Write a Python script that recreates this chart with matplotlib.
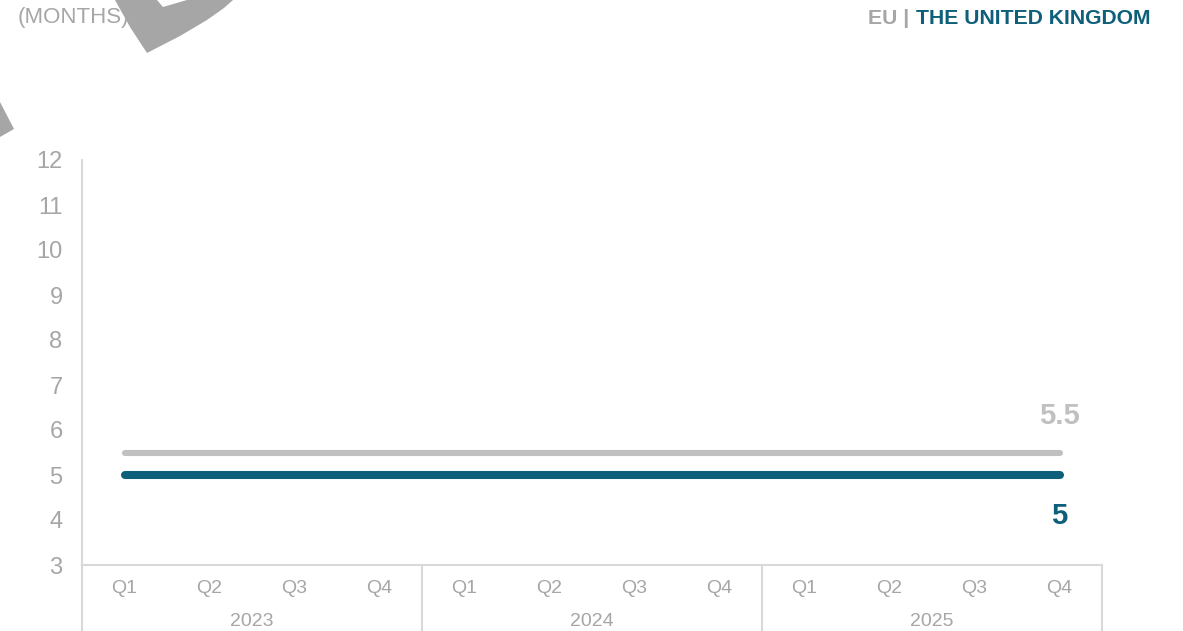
import matplotlib
matplotlib.use("Agg")
import matplotlib.pyplot as plt
from matplotlib.patches import Polygon
from matplotlib.transforms import blended_transform_factory, Affine2D
import numpy as np

plt.rcParams['font.family'] = ['Liberation Sans', 'DejaVu Sans']

# ---- data ----
years = ["2023", "2024", "2025"]
quarters = ["Q1", "Q2", "Q3", "Q4"]
eu_values = [5.5] * 12
uk_values = [5.0] * 12
y_ticks = [3, 4, 5, 6, 7, 8, 9, 10, 11, 12]

TEAL = "#0E5F7A"
GREY_LINE = "#C0C0C0"
TICK_GREY = "#A6A6A6"
AXIS_GREY = "#D9D9D9"

W, H = 1183, 631
fig = plt.figure(figsize=(W / 100, H / 100), dpi=100)
ax = fig.add_axes([82 / W, 1 - 565 / H, (1102 - 82) / W, (565 - 160) / H])

x = np.arange(len(eu_values))
ax.plot(x, eu_values, color=GREY_LINE, lw=4.4, solid_capstyle="round", zorder=3)
ax.plot(x, uk_values, color=TEAL, lw=5.8, solid_capstyle="round", zorder=4)

ax.set_xlim(-0.5, len(x) - 0.5)
ax.set_ylim(3, 12)
ax.set_yticks(y_ticks)
ax.set_yticklabels([str(v) for v in y_ticks], fontsize=17, color=TICK_GREY)
ax.tick_params(axis="y", length=0, pad=14)
ax.set_xticks(x)
ax.set_xticklabels(quarters * len(years), fontsize=14, color=TICK_GREY)
ax.tick_params(axis="x", length=0, pad=11)

for s in ["top", "right"]:
    ax.spines[s].set_visible(False)
for s in ["left", "bottom"]:
    ax.spines[s].set_color(AXIS_GREY)
    ax.spines[s].set_linewidth(1.5)

# category separators extending below the axis
trans = blended_transform_factory(ax.transData, ax.transAxes)
ext = -66 / 405
for i in range(len(years) + 1):
    xs = -0.5 + 4 * i
    ax.plot([xs, xs], [0, ext], color=AXIS_GREY, lw=1.5, transform=trans, clip_on=False)

for i, yr in enumerate(years):
    ax.text(1.5 + 4 * i, -56 / 405, yr, transform=trans, ha="center", va="center",
            fontsize=14, color=TICK_GREY)

# end value labels
ax.text(x[-1], eu_values[-1] + 0.8, f"{eu_values[-1]:g}", ha="center", va="center",
        fontsize=21, fontweight="bold", color=GREY_LINE)
ax.text(x[-1], uk_values[-1] - 0.9, f"{uk_values[-1]:g}", ha="center", va="center",
        fontsize=21, fontweight="bold", color=TEAL)

# titles
fig.text(18 / W, 1 - 18 / H, "(MONTHS)", ha="left", va="center", fontsize=16, color=TICK_GREY)
t1 = fig.text(1150 / W, 1 - 18 / H, "THE UNITED KINGDOM", ha="right", va="center",
              fontsize=15.2, fontweight="bold", color=TEAL)
fig.canvas.draw()
bb = t1.get_window_extent()
fig.text(bb.x0 / W, 1 - 18 / H, "EU | ", ha="right", va="center",
         fontsize=15.2, fontweight="bold", color=TICK_GREY)

# watermark fragments (decorative)
pix = Affine2D().scale(1, -1).translate(0, H)
wm = "#A6A6A6"
shape1 = [(115, 0), (130, 27), (147, 53), (180, 36), (207, 20), (224, 8), (233, 0),
          (187, 0), (163, 7), (157, 0)]
shape2 = [(0, 102), (14, 129), (0, 137)]
for sh in (shape1, shape2):
    fig.patches.append(Polygon(sh, closed=True, facecolor=wm, edgecolor="none",
                               transform=pix, zorder=5))

fig.savefig("out.png", dpi=100)
